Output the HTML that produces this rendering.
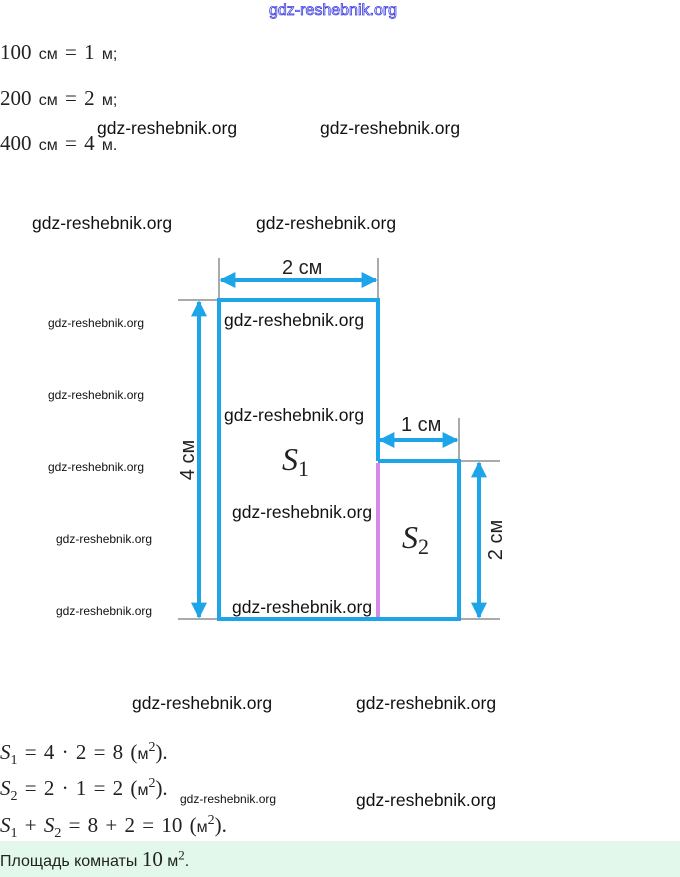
<!DOCTYPE html>
<html><head><meta charset="utf-8"><style>
body{margin:0;width:680px;height:877px;background:#fff;position:relative;overflow:hidden;font-family:"Liberation Sans",sans-serif;}
.a{position:absolute;white-space:nowrap;}
.m{font-family:"Liberation Serif",serif;font-size:21px;color:#222;word-spacing:2px;}
.m .u{font-family:"Liberation Sans",sans-serif;font-size:16px;}
.w{font-size:17.5px;color:#111;}
.ws{font-size:12px;color:#111;}
</style></head><body>
<div class="a" style="left:269px;top:2px;font-size:16px;color:#fff;-webkit-text-stroke:0.8px #3a3adf;">gdz-reshebnik.org</div>
<div class="a m" style="left:0;top:40px;">100 <span class="u">см</span> = 1 <span class="u">м;</span></div>
<div class="a m" style="left:0;top:86px;">200 <span class="u">см</span> = 2 <span class="u">м;</span></div>
<div class="a m" style="left:0;top:131px;">400 <span class="u">см</span> = 4 <span class="u">м.</span></div>
<div class="a w" style="left:97px;top:118px;">gdz-reshebnik.org</div>
<div class="a w" style="left:320px;top:118px;">gdz-reshebnik.org</div>
<div class="a w" style="left:32px;top:213px;">gdz-reshebnik.org</div>
<div class="a w" style="left:256px;top:213px;">gdz-reshebnik.org</div>
<svg class="a" style="left:0;top:0" width="680" height="877">
<defs><marker id="ar" viewBox="0 0 10 10" refX="9" refY="5" markerWidth="4" markerHeight="4" orient="auto-start-reverse"><path d="M0,0L10,5L0,10z" fill="#1ea5e9"/></marker></defs>
<g stroke="#aaa" stroke-width="2">
<line x1="178" y1="300" x2="219" y2="300"/><line x1="219" y1="258" x2="219" y2="300"/><line x1="378" y1="258" x2="378" y2="300"/>
<line x1="178" y1="619" x2="500" y2="619"/><line x1="459" y1="461" x2="500" y2="461"/><line x1="459" y1="418" x2="459" y2="461"/>
</g>
<g stroke="#1ea5e9" stroke-width="4" fill="none">
<path d="M378,461V300H219V619H459V461H378"/>
<line x1="221" y1="280" x2="376" y2="280" marker-start="url(#ar)" marker-end="url(#ar)"/>
<line x1="199" y1="302" x2="199" y2="617" marker-start="url(#ar)" marker-end="url(#ar)"/>
<line x1="380" y1="440" x2="457" y2="440" marker-start="url(#ar)" marker-end="url(#ar)"/>
<line x1="479" y1="463" x2="479" y2="617" marker-start="url(#ar)" marker-end="url(#ar)"/>
</g>
<line x1="378" y1="463" x2="378" y2="617" stroke="#d58ae8" stroke-width="4"/>
<g font-family="Liberation Sans,sans-serif" font-size="20" fill="#222">
<text x="282" y="274">2 см</text>
<text x="401" y="431">1 см</text>
<text transform="translate(194,460) rotate(-90)" text-anchor="middle">4 см</text>
<text transform="translate(502,540) rotate(-90)" text-anchor="middle">2 см</text>
</g>
<g font-family="Liberation Serif,serif" font-style="italic" font-size="32" fill="#222">
<text x="282" y="470">S<tspan font-style="normal" font-size="22" dy="6">1</tspan></text>
<text x="402" y="548">S<tspan font-style="normal" font-size="22" dy="6">2</tspan></text>
</g>
</svg>
<div class="a w" style="left:224px;top:310px;">gdz-reshebnik.org</div>
<div class="a w" style="left:224px;top:405px;">gdz-reshebnik.org</div>
<div class="a w" style="left:232px;top:502px;">gdz-reshebnik.org</div>
<div class="a w" style="left:232px;top:597px;">gdz-reshebnik.org</div>
<div class="a ws" style="left:48px;top:316px;">gdz-reshebnik.org</div>
<div class="a ws" style="left:48px;top:388px;">gdz-reshebnik.org</div>
<div class="a ws" style="left:48px;top:460px;">gdz-reshebnik.org</div>
<div class="a ws" style="left:56px;top:532px;">gdz-reshebnik.org</div>
<div class="a ws" style="left:56px;top:604px;">gdz-reshebnik.org</div>
<div class="a w" style="left:132px;top:693px;">gdz-reshebnik.org</div>
<div class="a w" style="left:356px;top:693px;">gdz-reshebnik.org</div>
<div class="a m" style="left:0;top:740px;"><i>S</i><sub style="font-size:14px">1</sub> = 4 · 2 = 8 (<span class="u">м</span><sup style="font-size:14px">2</sup>).</div>
<div class="a m" style="left:0;top:776px;"><i>S</i><sub style="font-size:14px">2</sub> = 2 · 1 = 2 (<span class="u">м</span><sup style="font-size:14px">2</sup>).</div>
<div class="a ws" style="left:180px;top:792px;">gdz-reshebnik.org</div>
<div class="a w" style="left:356px;top:790px;">gdz-reshebnik.org</div>
<div class="a m" style="left:0;top:813px;"><i>S</i><sub style="font-size:14px">1</sub> + <i>S</i><sub style="font-size:14px">2</sub> = 8 + 2 = 10 (<span class="u">м</span><sup style="font-size:14px">2</sup>).</div>
<div class="a" style="left:0;top:841px;width:680px;height:36px;background:#e2f8ea;"></div>
<div class="a" style="left:0;top:847px;font-size:16px;color:#222;">Площадь комнаты <span style="font-family:'Liberation Serif',serif;font-size:21px">10</span> м<sup style="font-size:13px;font-family:'Liberation Serif',serif">2</sup>.</div>
</body></html>
